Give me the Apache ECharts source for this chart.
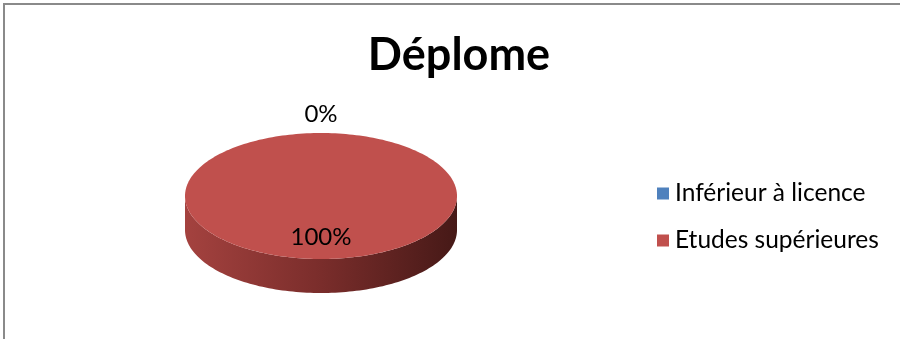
<!DOCTYPE html>
<html>
<head>
<meta charset="utf-8">
<script src="https://cdn.jsdelivr.net/npm/echarts@6/dist/echarts.min.js"></script>
<style>
  html, body { margin: 0; padding: 0; background: #fff; }
  #wrap { position: relative; width: 900px; height: 339px; overflow: hidden; }
  #chart { position: absolute; left: 0; top: 0; width: 900px; height: 339px; }
  #frame { position: absolute; left: 3px; top: 3px; width: 920px; height: 400px;
           border-left: 2px solid #8a8a8a; border-top: 2px solid #8a8a8a; pointer-events: none; }
</style>
</head>
<body>
<div id="wrap"><div id="chart"></div><div id="frame"></div></div>
<script>
// ---- data ----
const titleText = 'Déplome';
const categories = ['Inférieur à licence', 'Etudes supérieures'];
const values = [0, 100];
const colors = ['#4F81BD', '#C0504D'];

// ---- layout ----
const FONT = 'Lato, "Open Sans", sans-serif';
const PIE = { cx: 321, cy: 196, rx: 136, ry: 63, depth: 34 };
const sideGradient = ['#A4423F', '#7A2D2B', '#461917'];

const total = values.reduce((a, b) => a + b, 0);

function ellPt(theta, dy) {
  return [PIE.cx + PIE.rx * Math.cos(theta), PIE.cy + (dy || 0) + PIE.ry * Math.sin(theta)];
}

function renderSlice(idx) {
  return function (params, api) {
    const v = api.value(0);
    let before = 0;
    for (let k = 0; k < idx; k++) before += values[k];
    const start = -Math.PI / 2 + (before / total) * Math.PI * 2;
    const end = start + (v / total) * Math.PI * 2;
    const children = [];
    const steps = 120;
    if (v > 0) {
      // side wall: visible part is where sin(theta) > 0 (front)
      const segs = [];
      for (let base = -2 * Math.PI; base <= 2 * Math.PI; base += 2 * Math.PI) {
        const s = Math.max(start, base), e = Math.min(end, base + Math.PI);
        if (e > s) segs.push([s, e]);
      }
      segs.forEach(function (sg) {
        const pts = [];
        for (let i = 0; i <= steps; i++) pts.push(ellPt(sg[0] + (sg[1] - sg[0]) * i / steps, 0));
        for (let i = steps; i >= 0; i--) pts.push(ellPt(sg[0] + (sg[1] - sg[0]) * i / steps, PIE.depth));
        children.push({
          type: 'polygon',
          shape: { points: pts },
          style: {
            fill: new echarts.graphic.LinearGradient(0, 0, 1, 0, [
              { offset: 0, color: sideGradient[0] },
              { offset: 0.5, color: sideGradient[1] },
              { offset: 1, color: sideGradient[2] }
            ])
          }
        });
      });
      // top face
      const top = [];
      if (end - start < Math.PI * 2 - 1e-6) top.push([PIE.cx, PIE.cy]);
      for (let i = 0; i <= steps * 2; i++) top.push(ellPt(start + (end - start) * i / (steps * 2), 0));
      children.push({ type: 'polygon', shape: { points: top }, style: { fill: api.visual('color') } });
    }
    // label
    const mid = (start + end) / 2;
    const share = v / total;
    let lx, ly;
    if (share < 0.05) {
      lx = PIE.cx + (PIE.rx + 19) * Math.cos(mid);
      ly = PIE.cy + (PIE.ry + 19) * Math.sin(mid);
    } else {
      lx = PIE.cx + 0.65 * PIE.rx * Math.cos(mid);
      ly = PIE.cy + 0.65 * PIE.ry * Math.sin(mid);
    }
    children.push({
      type: 'text',
      style: {
        x: lx, y: ly, text: Math.round(share * 100) + '%',
        fill: '#000', font: '24px ' + FONT, align: 'center', verticalAlign: 'middle'
      },
      z2: 10
    });
    return { type: 'group', children: children };
  };
}

const chart = echarts.init(document.getElementById('chart'), null, { renderer: 'canvas' });
chart.setOption({
  animation: false,
  backgroundColor: 'transparent',
  title: {
    text: titleText,
    left: 454, top: 28, textAlign: 'center',
    textStyle: { fontFamily: FONT, fontWeight: 'bold', fontSize: 45, color: '#000' }
  },
  legend: {
    orient: 'vertical',
    left: 652, top: 176,
    icon: 'rect', itemWidth: 12, itemHeight: 12, itemGap: 22,
    data: categories,
    textStyle: { fontFamily: FONT, fontSize: 24.5, color: '#000', padding: [0, 0, 0, 1] }
  },
  series: categories.map(function (name, i) {
    return {
      type: 'custom',
      name: name,
      coordinateSystem: 'none',
      itemStyle: { color: colors[i] },
      data: [[values[i]]],
      renderItem: renderSlice(i),
      z: i
    };
  })
});
</script>
</body>
</html>
